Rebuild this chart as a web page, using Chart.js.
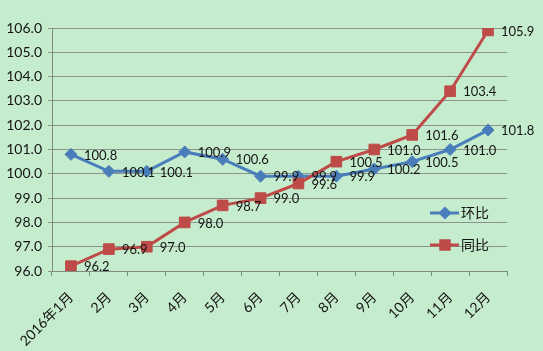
<!DOCTYPE html>
<html>
<head>
<meta charset="utf-8">
<script src="https://cdn.jsdelivr.net/npm/chart.js@4.4.1/dist/chart.umd.min.js"></script>
<style>
  html, body { margin: 0; padding: 0; background: #c6ecce; }
  #wrap { position: relative; width: 543px; height: 351px; }
</style>
</head>
<body>
<div id="wrap"><canvas id="priceChart" width="543" height="351"></canvas></div>
<script>
// categories and series
const months = ['2016年1月', '2月', '3月', '4月', '5月', '6月', '7月', '8月', '9月', '10月', '11月', '12月'];
const huanbi = [100.8, 100.1, 100.1, 100.9, 100.6, 99.9, 99.9, 99.9, 100.2, 100.5, 101.0, 101.8];
const tongbi = [96.2, 96.9, 97.0, 98.0, 98.7, 99.0, 99.6, 100.5, 101.0, 101.6, 103.4, 105.9];
const seriesNames = ['环比', '同比'];
const yMin = 96, yMax = 106, yStep = 1;

const BLUE = '#4a7ebb';
const RED = '#be4b48';
const FONT = "Lato, 'Noto Sans CJK SC', sans-serif";

// value labels to the right of each point
const valueLabels = {
    id: 'valueLabels',
    afterDatasetsDraw(chart) {
        const ctx = chart.ctx;
        ctx.save();
        ctx.font = '13px ' + FONT;
        ctx.fillStyle = '#141414';
        ctx.textAlign = 'left';
        ctx.textBaseline = 'middle';
        chart.data.datasets.forEach((ds, i) => {
            chart.getDatasetMeta(i).data.forEach((pt, j) => {
                ctx.fillText(ds.data[j].toFixed(1), pt.x + 13, pt.y + 1);
            });
        });
        ctx.restore();
    }
};

// legend sits inside the plot, lower right
const insideLegend = {
    id: 'insideLegend',
    afterDraw(chart) {
        const ctx = chart.ctx;
        const area = chart.chartArea;
        const x0 = area.right - 77;
        const rows = [area.top + 185, area.top + 217];
        const sizes = [4.5, 6];
        chart.data.datasets.forEach((ds, i) => {
            const y = rows[i];
            ctx.save();
            ctx.strokeStyle = ds.borderColor;
            ctx.lineWidth = 3;
            ctx.beginPath();
            ctx.moveTo(x0, y);
            ctx.lineTo(x0 + 29, y);
            ctx.stroke();
            Chart.helpers.drawPoint(ctx, {
                pointStyle: ds.pointStyle,
                radius: sizes[i],
                borderWidth: 1
            }, x0 + 15, y);
            ctx.fillStyle = ds.backgroundColor;
            ctx.fill();
            ctx.font = '14px ' + FONT;
            ctx.fillStyle = '#141414';
            ctx.textBaseline = 'middle';
            ctx.fillText(ds.label, x0 + 31, y);
            ctx.restore();
        });
    }
};

const ctx = document.getElementById('priceChart').getContext('2d');
const priceChart = new Chart(ctx, {
    type: 'line',
    data: {
        labels: months,
        datasets: [{
            label: seriesNames[0],
            data: huanbi,
            borderColor: BLUE,
            backgroundColor: BLUE,
            borderWidth: 3,
            pointStyle: 'rectRot',
            pointRadius: 6,
            pointBorderWidth: 1,
            tension: 0,
            order: 1
        }, {
            label: seriesNames[1],
            data: tongbi,
            borderColor: RED,
            backgroundColor: RED,
            borderWidth: 3,
            pointStyle: 'rect',
            pointRadius: 7.5,
            pointBorderWidth: 1,
            tension: 0,
            order: 0
        }]
    },
    options: {
        responsive: false,
        animation: false,
        layout: { padding: { top: 28, right: 36, left: 0, bottom: 0 } },
        plugins: {
            legend: { display: false },
            tooltip: { enabled: false }
        },
        scales: {
            x: {
                offset: true,
                grid: {
                    offset: true,
                    drawOnChartArea: false,
                    drawTicks: true,
                    tickLength: 5,
                    color: '#7d8a7d'
                },
                border: { display: true, color: '#7d8a7d', width: 1 },
                ticks: {
                    minRotation: 45,
                    maxRotation: 45,
                    autoSkip: false,
                    padding: 13,
                    color: '#141414',
                    font: { family: FONT, size: 14 }
                },
                afterFit(scale) { scale.height = 80; }
            },
            y: {
                min: yMin,
                max: yMax,
                grid: {
                    color: '#8a948a',
                    lineWidth: 1,
                    tickLength: 4
                },
                border: { display: true, color: '#7d8a7d', width: 1 },
                ticks: {
                    stepSize: yStep,
                    padding: 6,
                    color: '#141414',
                    font: { family: FONT, size: 14 },
                    callback: v => v.toFixed(1)
                },
                afterFit(scale) { scale.width = 52; }
            }
        }
    },
    plugins: [valueLabels, insideLegend]
});
</script>
</body>
</html>
